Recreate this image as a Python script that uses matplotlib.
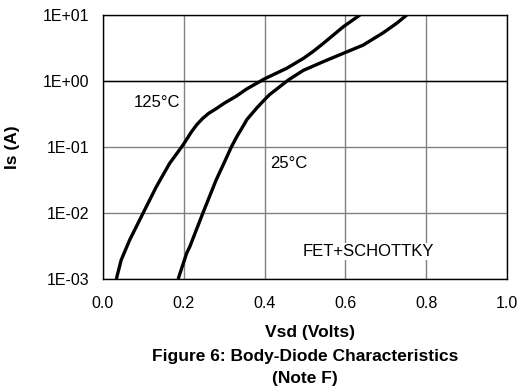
import matplotlib
matplotlib.use('Agg')
import matplotlib.pyplot as plt
from matplotlib.ticker import FixedLocator, NullLocator

plt.rcParams['font.family'] = ['Liberation Sans', 'DejaVu Sans']

# 125 degC curve
vsd_125 = [0.033, 0.045, 0.066, 0.099, 0.132, 0.165, 0.198, 0.219, 0.233,
           0.247, 0.262, 0.280, 0.300, 0.330, 0.356, 0.388, 0.400, 0.455,
           0.496, 0.520, 0.545, 0.595, 0.636]
is_125 = [1.0e-3, 1.94e-3, 3.9e-3, 9.9e-3, 0.025, 0.0566, 0.107, 0.17, 0.221,
          0.272, 0.325, 0.38, 0.46, 0.59, 0.76, 0.98, 1.08, 1.56,
          2.2, 2.8, 3.7, 6.65, 10.0]

# 25 degC curve
vsd_25 = [0.186, 0.207, 0.215, 0.247, 0.280, 0.300, 0.318, 0.333, 0.346,
          0.356, 0.380, 0.397, 0.412, 0.446, 0.459, 0.496, 0.545, 0.595,
          0.644, 0.694, 0.727, 0.752]
is_25 = [1.0e-3, 2.45e-3, 3.1e-3, 9.9e-3, 0.0316, 0.058, 0.101, 0.15, 0.203,
         0.26, 0.386, 0.50, 0.62, 0.9, 1.04, 1.45, 1.96, 2.63,
         3.5, 5.4, 7.5, 10.0]

x_ticks = [0.0, 0.2, 0.4, 0.6, 0.8, 1.0]
x_labels = ['0.0', '0.2', '0.4', '0.6', '0.8', '1.0']
y_ticks = [1e-3, 1e-2, 1e-1, 1e0, 1e1]
y_labels = ['1E-03', '1E-02', '1E-01', '1E+00', '1E+01']

fig = plt.figure(figsize=(5.22, 3.87), dpi=100)
ax = fig.add_axes([103 / 522, 1 - 279 / 387, 404 / 522, 264 / 387])

ax.set_yscale('log')
ax.set_xlim(0, 1.0)
ax.set_ylim(1e-3, 1e1)

ax.xaxis.set_major_locator(FixedLocator(x_ticks))
ax.set_xticklabels(x_labels)
ax.yaxis.set_major_locator(FixedLocator(y_ticks))
ax.yaxis.set_minor_locator(NullLocator())
ax.set_yticklabels(y_labels)
ax.tick_params(axis='x', length=0, labelsize=11.5, pad=12)
ax.tick_params(axis='y', length=0, labelsize=11.5, pad=10)

ax.grid(True, color='#808080', linewidth=1.0)
ax.axhline(1.0, color='black', linewidth=1.0, zorder=1.5)
ax.set_axisbelow(True)
for s in ax.spines.values():
    s.set_linewidth(1.0)

ax.plot(vsd_125, is_125, color='black', linewidth=2.4,
        solid_joinstyle='round', solid_capstyle='butt')
ax.plot(vsd_25, is_25, color='black', linewidth=2.4,
        solid_joinstyle='round', solid_capstyle='butt')

box = dict(facecolor='white', edgecolor='none', pad=1)
ax.text(0.134, 0.48, '125°C', fontsize=12, ha='center', va='center', bbox=box)
ax.text(0.459, 0.057, '25°C', fontsize=12, ha='center', va='center', bbox=box)
ax.text(0.657, 2.6e-3, 'FET+SCHOTTKY', fontsize=12, ha='center', va='center', bbox=box)

ax.set_ylabel('Is (A)', fontsize=12.5, fontweight='bold')
ax.yaxis.set_label_coords(-(103 - 20) / 404, 0.5)

fig.text(310 / 522, 1 - 333 / 387, 'Vsd (Volts)',
         fontsize=12.5, fontweight='bold', ha='center', va='center')
fig.text(305 / 522, 1 - 356 / 387, 'Figure 6: Body-Diode Characteristics',
         fontsize=12.5, fontweight='bold', ha='center', va='center')
fig.text(305 / 522, 1 - 378 / 387, '(Note F)',
         fontsize=12.5, fontweight='bold', ha='center', va='center')

fig.savefig('out.png', dpi=100)
